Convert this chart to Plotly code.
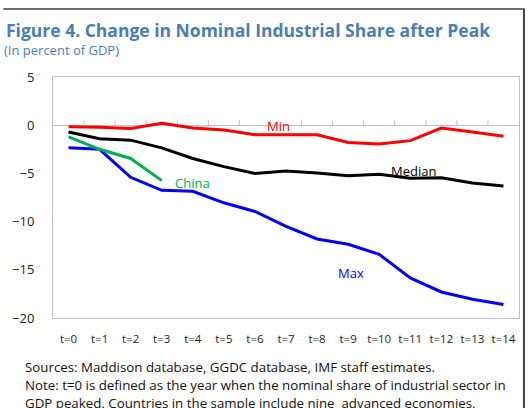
import plotly.graph_objects as go

periods = [f"t={i}" for i in range(15)]
min_vals = [-0.15, -0.2, -0.35, 0.2, -0.3, -0.5, -1.0, -1.0, -1.0, -1.8, -1.95, -1.6, -0.3, -0.7, -1.15]
median_vals = [-0.7, -1.4, -1.55, -2.35, -3.45, -4.3, -5.0, -4.75, -4.95, -5.25, -5.1, -5.5, -5.45, -6.0, -6.3]
max_vals = [-2.35, -2.5, -5.4, -6.75, -6.85, -8.05, -8.95, -10.5, -11.8, -12.35, -13.4, -15.85, -17.3, -18.05, -18.6]
china_vals = [-1.2, -2.5, -3.45, -5.75]

W, H = 532, 408
L, R, T, B = 50, 12, 77, 90
PW, PH = W - L - R, H - T - B
Y_MIN, Y_MAX = -20, 5

def px(x):
    return (x - L) / PW

def py(y):
    return (H - B - y) / PH

FONT = "Open Sans"
BLUE_T = "#4a7eb3"

idx = list(range(len(periods)))
idx_china = idx[:len(china_vals)]
boundaries = [i + 0.5 for i in idx[:-1]]
tick_len_units = 5 * (Y_MAX - Y_MIN) / PH  # 5px upward tick marks on the zero line

fig = go.Figure()
# zero-line tick marks at category boundaries (pointing up)
fig.add_trace(go.Scatter(x=boundaries, y=[0] * len(boundaries), mode="markers",
                         marker=dict(size=0.1, color="rgba(0,0,0,0)"),
                         error_y=dict(type="data", symmetric=False, array=[tick_len_units] * len(boundaries),
                                      arrayminus=[0] * len(boundaries), width=0, thickness=1, color="#bfbfbf"),
                         hoverinfo="skip", showlegend=False))
fig.add_trace(go.Scatter(x=idx, y=min_vals, mode="lines", line=dict(color="#ff0000", width=3), name="Min"))
fig.add_trace(go.Scatter(x=idx, y=median_vals, mode="lines", line=dict(color="#000000", width=3), name="Median"))
fig.add_trace(go.Scatter(x=idx, y=max_vals, mode="lines", line=dict(color="#0000ff", width=3), name="Max"))
fig.add_trace(go.Scatter(x=idx_china, y=china_vals, mode="lines", line=dict(color="#00b050", width=3), name="China"))

fig.update_layout(
    width=W, height=H,
    margin=dict(l=L, r=R, t=T, b=B),
    paper_bgcolor="white", plot_bgcolor="white",
    showlegend=False,
    font=dict(family=FONT, size=12, color="#222222"),
    xaxis=dict(range=[-0.5, len(periods) - 0.5], tickmode="array", tickvals=idx, ticktext=periods,
               showline=True, mirror=True, linecolor="#bfbfbf", linewidth=1,
               ticks="", showgrid=False, zeroline=False, tickangle=0,
               ticklabelstandoff=10, tickfont=dict(size=11.5, color="#222222")),
    yaxis=dict(range=[Y_MIN, Y_MAX], dtick=5, showline=True, mirror=True, linecolor="#bfbfbf",
               showgrid=False, zeroline=True, zerolinecolor="#bfbfbf", zerolinewidth=1,
               ticks="", ticklabelstandoff=15,
               tickfont=dict(size=13, color="#222222")),
)

ann = [
    dict(x=6.75, y=-0.05, text="Min", font=dict(color="#ff0000", size=13)),
    dict(x=11.1, y=-4.7, text="Median", font=dict(color="#000000", size=13)),
    dict(x=9.1, y=-15.3, text="Max", font=dict(color="#0000ff", size=13)),
    dict(x=4.0, y=-6.0, text="China", font=dict(color="#00b050", size=13)),
]
for a in ann:
    fig.add_annotation(xref="x", yref="y", showarrow=False, xanchor="center", yanchor="middle", **a)

fig.add_annotation(xref="paper", yref="paper", x=px(1), y=py(30), xanchor="left", yanchor="middle",
                   showarrow=False, text="<b>Figure 4. Change in Nominal Industrial Share after Peak</b>",
                   font=dict(family=FONT, size=17.5, color=BLUE_T))
fig.add_annotation(xref="paper", yref="paper", x=px(-1), y=py(50), xanchor="left", yanchor="middle",
                   showarrow=False, text="(In percent of GDP)",
                   font=dict(family=FONT, size=13, color=BLUE_T))

footer = [
    (367, "Sources: Maddison database, GGDC database, IMF staff estimates."),
    (385, "Note: t=0 is defined as the year when the nominal share of industrial sector in"),
    (403, "GDP peaked. Countries in the sample include nine  advanced economies."),
]
for yy, txt in footer:
    fig.add_annotation(xref="paper", yref="paper", x=px(20), y=py(yy), xanchor="left", yanchor="middle",
                       showarrow=False, text=txt, font=dict(family=FONT, size=13.3, color="#111111"))

# outer frame lines
fig.add_shape(type="line", xref="paper", yref="paper", x0=px(0), x1=px(526), y0=py(9), y1=py(9),
              line=dict(color="#404040", width=1.5))
fig.add_shape(type="line", xref="paper", yref="paper", x0=px(525), x1=px(525), y0=py(9), y1=py(410),
              line=dict(color="#404040", width=2))

fig.write_html("out.html", config={"displayModeBar": False},
               post_script="document.body.style.margin='0';")
